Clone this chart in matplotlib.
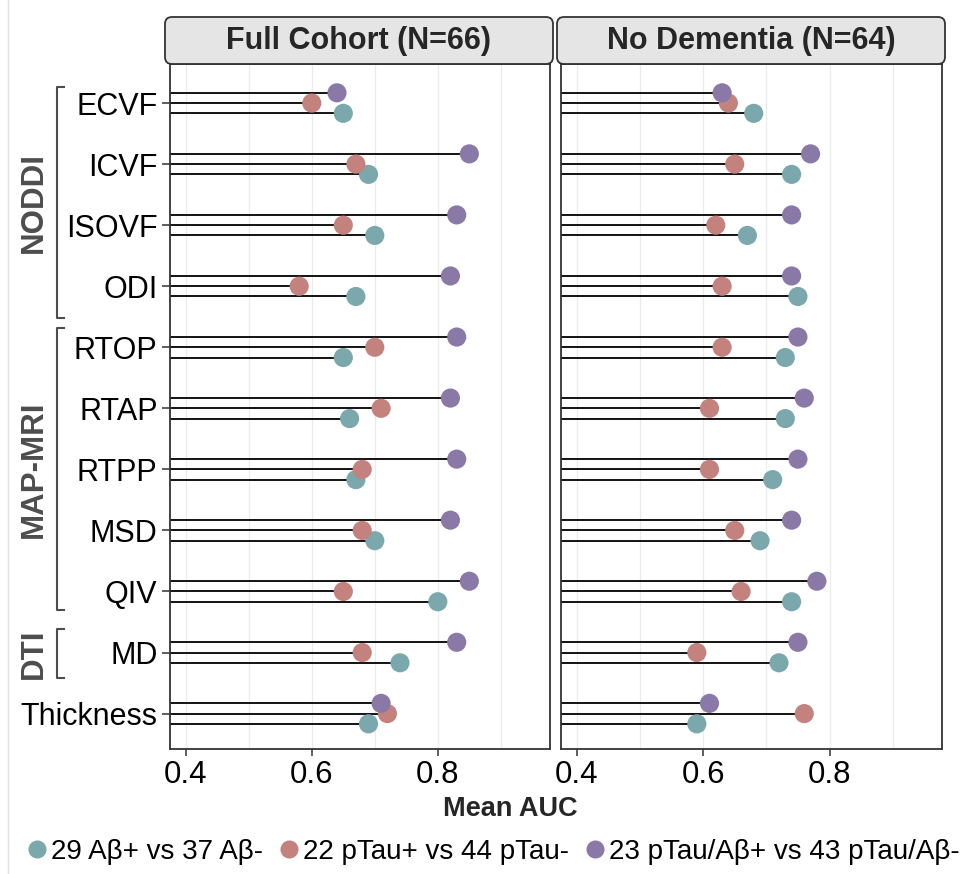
import matplotlib

matplotlib.use("Agg")
import matplotlib.pyplot as plt
from matplotlib.lines import Line2D
from matplotlib.patches import FancyBboxPatch
from matplotlib.transforms import blended_transform_factory

plt.rcParams["font.family"] = ["Liberation Sans", "DejaVu Sans"]

metrics = ["ECVF", "ICVF", "ISOVF", "ODI", "RTOP", "RTAP", "RTPP", "MSD", "QIV", "MD", "Thickness"]
panels = ["Full Cohort (N=66)", "No Dementia (N=64)"]
series = ["29 A\u03b2+ vs 37 A\u03b2-", "22 pTau+ vs 44 pTau-", "23 pTau/A\u03b2+ vs 43 pTau/A\u03b2-"]

# Mean AUC, full cohort
full_amyloid = [0.65, 0.69, 0.70, 0.67, 0.65, 0.66, 0.67, 0.70, 0.80, 0.74, 0.69]
full_ptau = [0.60, 0.67, 0.65, 0.58, 0.70, 0.71, 0.68, 0.68, 0.65, 0.68, 0.72]
full_both = [0.64, 0.85, 0.83, 0.82, 0.83, 0.82, 0.83, 0.82, 0.85, 0.83, 0.71]

# Mean AUC, no dementia
nodem_amyloid = [0.68, 0.74, 0.67, 0.75, 0.73, 0.73, 0.71, 0.69, 0.74, 0.72, 0.59]
nodem_ptau = [0.64, 0.65, 0.62, 0.63, 0.63, 0.61, 0.61, 0.65, 0.66, 0.59, 0.76]
nodem_both = [0.63, 0.77, 0.74, 0.74, 0.75, 0.76, 0.75, 0.74, 0.78, 0.75, 0.61]

# metric groups shown with brackets: (label, top, bottom) in category units
groups = [("NODDI", -0.26, 3.52), ("MAP-MRI", 3.68, 8.31), ("DTI", 8.62, 9.41)]

colors = ["#7BA8AC", "#C4827F", "#8A79A6"]
offsets = [0.168, 0.0, -0.168]
xlim = (0.375, 0.978)

W, H = 966, 874


def draw_panel(ax, values, show_y):
    ypos = list(range(len(metrics)))
    for vals, color, off in zip(values, colors, offsets):
        y = [p + off for p in ypos]
        ax.hlines(y, xlim[0], vals, color="black", lw=1.3, zorder=2)
        ax.scatter(vals, y, s=190, color=color, edgecolor="none", zorder=3)

    ax.set_xlim(*xlim)
    ax.set_ylim(len(metrics) - 1 + 0.58, -0.64)
    ax.set_xticks([0.4, 0.6, 0.8])
    ax.set_xticks([0.5, 0.7, 0.9], minor=True)
    ax.grid(axis="x", which="both", color="#EBEBEB", lw=0.9, zorder=0)
    ax.set_axisbelow(True)
    ax.tick_params(axis="x", which="major", labelsize=22.5, length=5, width=1.1,
                   color="#333333", labelcolor="black", pad=3)
    ax.tick_params(axis="x", which="minor", length=0)
    ax.set_yticks(ypos)
    if show_y:
        ax.set_yticklabels(metrics)
        ax.tick_params(axis="y", labelsize=22, length=6, width=1.1,
                       color="#333333", labelcolor="black", pad=3)
    else:
        ax.set_yticklabels([])
        ax.tick_params(axis="y", length=0)
    for sp in ax.spines.values():
        sp.set_color("#333333")
        sp.set_linewidth(1.3)


def draw_strip(fig, x0, x1, text):
    box = FancyBboxPatch(
        (x0 / 100, (H - 64) / 100), (x1 - x0) / 100, 0.47,
        boxstyle="round,pad=0,rounding_size=0.07",
        transform=fig.dpi_scale_trans, facecolor="#E5E5E5",
        edgecolor="#333333", lw=1.3, zorder=5,
    )
    fig.add_artist(box)
    fig.text((x0 + x1) / 2 / W, (H - 40.5) / H, text, ha="center", va="center",
             fontsize=22, fontweight="bold", color="#262626", zorder=6)


def main():
    fig = plt.figure(figsize=(W / 100, H / 100), dpi=100)
    bottom = (H - 749) / H
    height = (749 - 64) / H
    ax1 = fig.add_axes([170 / W, bottom, 380 / W, height])
    ax2 = fig.add_axes([561 / W, bottom, 381 / W, height])

    draw_panel(ax1, [full_amyloid, full_ptau, full_both], True)
    draw_panel(ax2, [nodem_amyloid, nodem_ptau, nodem_both], False)

    draw_strip(fig, 165, 553, panels[0])
    draw_strip(fig, 557, 945, panels[1])

    # group brackets to the left of the metric labels
    trans = blended_transform_factory(fig.transFigure, ax1.transData)
    bx = 57 / W
    tick = 7 / W
    for label, top, bot in groups:
        ax1.add_line(Line2D([bx + tick, bx, bx, bx + tick], [top, top, bot, bot],
                            transform=trans, color="#4D4D4D", lw=1.5, clip_on=False))
        ax1.text(34 / W, (top + bot) / 2, label, transform=trans, rotation=90,
                 ha="center", va="center", fontsize=22.5, fontweight="bold",
                 color="#4D4D4D")

    fig.text(510 / W, (H - 809) / H, "Mean AUC", ha="center", va="center",
             fontsize=19.5, fontweight="bold", color="#262626")

    handles = [Line2D([], [], marker="o", ls="none", markersize=13, color=c,
                      markeredgecolor="none") for c in colors]
    fig.legend(handles, series, loc="center", bbox_to_anchor=(492 / W, (H - 852) / H),
               ncol=3, frameon=False, fontsize=20, handletextpad=0.05,
               columnspacing=0.5, handlelength=0.9, borderaxespad=0)

    fig.add_artist(Line2D([8 / W, 8 / W], [0, 1], transform=fig.transFigure,
                          color="#E0E0E0", lw=1))

    fig.savefig("out.png", dpi=100)
    plt.close(fig)


if __name__ == "__main__":
    main()
